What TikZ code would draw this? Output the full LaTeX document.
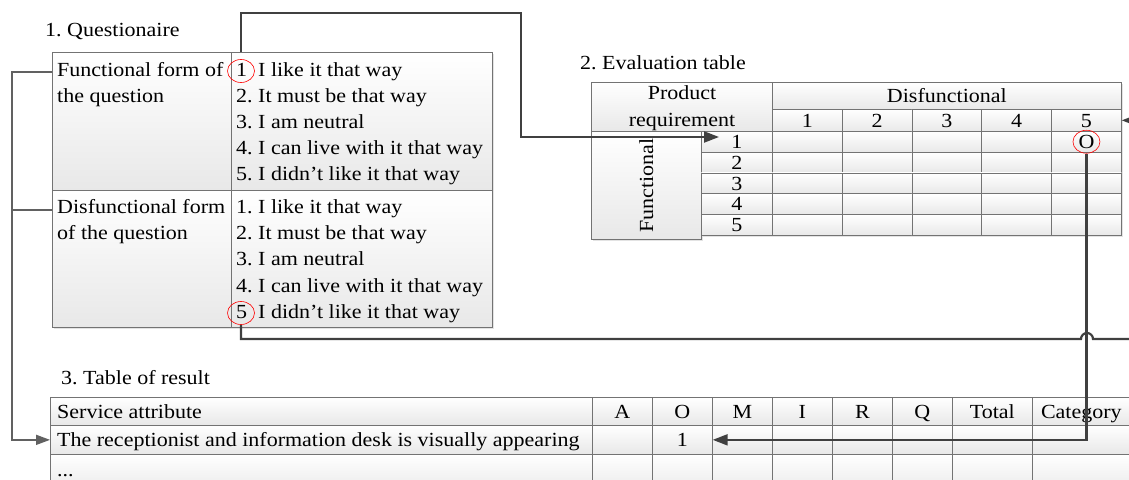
\documentclass[tikz,border=0pt]{standalone}
\usepackage{fontspec}
\setmainfont{Liberation Serif}[FakeStretch=1.1]
\usetikzlibrary{arrows.meta,shapes.geometric,shadows}
\frenchspacing

\tikzset{
  cell/.style={draw=black!55, line width=0.7pt, top color=white, bottom color=black!9,
    drop shadow={shadow xshift=2pt, shadow yshift=-2pt, fill=black!18, opacity=0.6},
    anchor=north west, inner sep=0pt, text height=13.4pt, text depth=0pt},
  txt/.style={anchor=base west, inner sep=0pt},
  ring/.style={draw=red, line width=0.6pt, ellipse, minimum width=27pt, minimum height=23pt, inner sep=0pt},
  link/.style={draw=black!75, line width=2.2pt, -{Triangle[length=15pt,width=11pt]}},
  feed/.style={draw=black!62, line width=1.5pt},
}

\begin{document}
\begin{tikzpicture}[x=1pt, y=-1pt, every node/.style={font=\fontsize{20}{26}\selectfont}]
\useasboundingbox (0,0) rectangle (1129,479);
\clip (0,0) rectangle (1129,479);
\fill[white] (0,0) rectangle (1129,479);

% 1. questionaire
\node[txt] (qtitle) at (45,36.5) {1. Questionaire};
\node[cell, minimum width=179pt, minimum height=138pt] (qfun) at (52,52) {};
\node[cell, minimum width=261pt, minimum height=138pt] (qfunopt) at (231,52) {};
\node[cell, minimum width=179pt, minimum height=137pt] (qdis) at (52,190) {};
\node[cell, minimum width=261pt, minimum height=137pt] (qdisopt) at (231,190) {};

\node[txt] (qfunname1) at (57,76.5) {Functional form of};
\node[txt] (qfunname2) at (57,102.5) {the question};
\node[txt] (qdisname1) at (57,213.5) {Disfunctional form};
\node[txt] (qdisname2) at (57,239.5) {of the question};

\node[txt] (fo1) at (236,76.5) {1\phantom{.} I like it that way};
\foreach \ans [count=\i from 2] in {It must be that way, I am neutral, I can live with it that way, I didn't like it that way}
  \node[txt] (fo\i) at (236,50.5+26*\i) {\i. \ans};
\foreach \ans [count=\i] in {I like it that way, It must be that way, I am neutral, I can live with it that way}
  \node[txt] (do\i) at (236,187.3+26.2*\i) {\i. \ans};
\node[txt] (do5) at (236,318.3) {5\phantom{.} I didn't like it that way};

\node[ring] (c1) at (241,71) {};
\node[ring] (c5) at (241,313) {};

% 2. evaluation table
\node[txt] (etitle) at (580,69.5) {2. Evaluation table};
\node[cell, minimum width=181pt, minimum height=49pt] (prodreq) at (591,82) {};
\node[anchor=base, inner sep=0pt] (prodtxt1) at (682,99.7) {Product};
\node[anchor=base, inner sep=0pt] (prodtxt2) at (682,126.7) {requirement};
\node[cell, minimum width=349pt, minimum height=27pt] (disfun) at (772,82) {Disfunctional};
\foreach \c in {1,...,5}
  \node[cell, minimum width=69.8pt, minimum height=22pt] (col\c) at (702.2+69.8*\c,109) {\c};

\node[cell, minimum width=110pt, minimum height=108pt] (funbox) at (591,131) {};
\node[rotate=90, inner sep=0pt] (funtxt) at (funbox.center) {Functional};
\foreach \r in {1,...,5}{
  \node[cell, minimum width=71pt, minimum height=20.8pt] (row\r) at (701,110.2+20.8*\r) {\r};
  \foreach \c in {1,...,5}
    \node[cell, minimum width=69.8pt, minimum height=20.8pt] (e\r\c) at (702.2+69.8*\c,110.2+20.8*\r) {};
}
\node[ring, text height=13.4pt, text depth=0pt] (cO) at (e15.center) {O};

% 3. table of result
\node[txt] (rtitle) at (61,384) {3. Table of result};
\node[cell, minimum width=542pt, minimum height=28pt] (rhattr) at (50,397) {};
\node[txt] (rhattrtxt) at (57,418) {Service attribute};
\node[cell, minimum width=542pt, minimum height=29pt] (r1attr) at (50,425) {};
\node[txt] (r1attrtxt) at (57,446) {The receptionist and information desk is visually appearing};
\node[cell, minimum width=542pt, minimum height=40pt] (r2attr) at (50,454) {};
\node[txt] (r2attrtxt) at (57,476) {...};
\foreach \h/\x/\w in {A/592/60, O/652/60, M/712/60, I/772/60, R/832/60, Q/892/60, Total/952/80, Category/1032/98}{
  \node[cell, minimum width=\w pt, minimum height=28pt] (rh\h) at (\x,397) {\h};
  \node[cell, minimum width=\w pt, minimum height=29pt] (r1\h) at (\x,425) {};
  \node[cell, minimum width=\w pt, minimum height=40pt] (r2\h) at (\x,454) {};
}
\node[inner sep=0pt] (r1val) at (r1O.center) {1};

% connectors
\coordinate (in1) at (719,137);
\draw[link] (c1 |- qfunopt.north) -- ++(0,-39) -| (521,137) -- (in1);
\draw[link] (c5.south) -- (241,339) -- (1081,339) arc[start angle=180, end angle=0, radius=6pt] -- (1140,339) |- (col5.east);
\draw[link] (cO.south) |- (r1O.east);
\draw[feed, -{Triangle[length=14pt,width=10pt]}] ([yshift=-20pt]qfun.north west) -- (12,72) |- (r1attr.west);
\draw[feed] ([yshift=-20pt]qdis.north west) -- (12,210);

\end{tikzpicture}
\end{document}
